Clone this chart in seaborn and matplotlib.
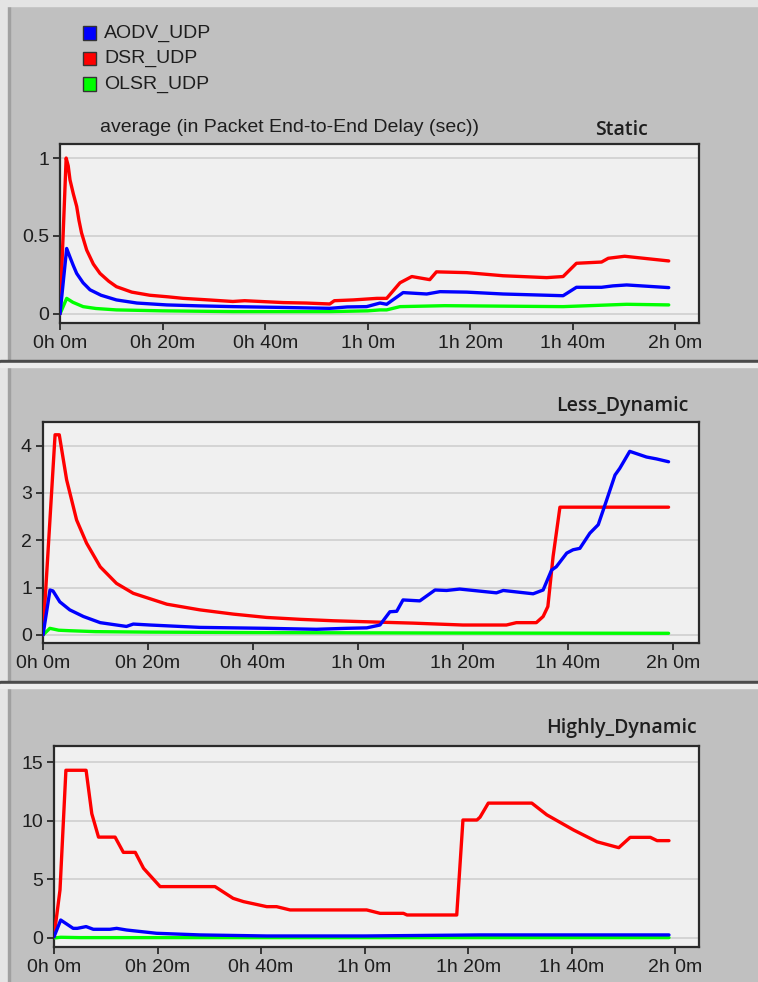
import pandas as pd
import matplotlib
matplotlib.use("Agg")
import matplotlib.pyplot as plt
from matplotlib.patches import Rectangle
import seaborn as sns

# ---------------------------------------------------------------------------
# Average packet end-to-end delay (sec) over simulation time (minutes)
# ---------------------------------------------------------------------------
protocols = ["AODV_UDP", "DSR_UDP", "OLSR_UDP"]
colors = {"AODV_UDP": "#0000ff", "DSR_UDP": "#ff0000", "OLSR_UDP": "#00ff00"}
scenarios = ["Static", "Less_Dynamic", "Highly_Dynamic"]

tick_minutes = [0, 20, 40, 60, 80, 100, 120]
tick_labels = ["0h 0m", "0h 20m", "0h 40m", "1h 0m", "1h 20m", "1h 40m", "2h 0m"]

# --- Static ---
static_dsr_t = [0, 1.2, 1.6, 1.95, 2.6, 3.25, 3.7, 4.2, 5.2, 6.5, 7.8, 9.5, 11, 14, 17.5,
                21, 24, 29, 33.7, 36, 43.5, 48, 52.6, 53.5, 57.2, 61.8, 63.7, 66.3, 68.6,
                72.1, 73.4, 79.3, 86.4, 94.9, 98.1, 100.7, 105.6, 106.9, 110.1, 118.7]
static_dsr = [0.0, 1.0, 0.95, 0.86, 0.77, 0.69, 0.60, 0.52, 0.41, 0.32, 0.26, 0.21, 0.175,
              0.14, 0.12, 0.11, 0.10, 0.09, 0.08, 0.085, 0.073, 0.07, 0.064, 0.085, 0.09,
              0.10, 0.10, 0.20, 0.24, 0.22, 0.27, 0.265, 0.245, 0.233, 0.24, 0.325, 0.333,
              0.357, 0.37, 0.34]
static_aodv_t = [0, 1.3, 2.0, 2.6, 3.25, 4.5, 5.85, 8, 11, 15, 20.8, 27, 33.7, 43, 52.6,
                 56, 59.8, 62.4, 63.7, 66.9, 71.5, 74.1, 79.3, 86.4, 98.1, 100.7, 105.6,
                 107.8, 110.5, 118.7]
static_aodv = [0.0, 0.42, 0.36, 0.31, 0.26, 0.20, 0.155, 0.12, 0.09, 0.07, 0.058, 0.052,
               0.047, 0.042, 0.036, 0.045, 0.047, 0.07, 0.062, 0.137, 0.128, 0.143, 0.14,
               0.128, 0.117, 0.171, 0.171, 0.18, 0.186, 0.169]
static_olsr_t = [0, 1.3, 2.5, 4.5, 7, 11, 20, 33.7, 52.6, 60, 62.4, 63.7, 66.3, 75, 98.1,
                 110.5, 118.7]
static_olsr = [0.0, 0.10, 0.075, 0.047, 0.035, 0.026, 0.02, 0.015, 0.015, 0.02, 0.026,
               0.026, 0.047, 0.053, 0.047, 0.062, 0.058]

# --- Less_Dynamic ---
less_dsr_t = [0, 2.3, 3.1, 4.5, 6.4, 8.3, 10.9, 14, 17.2, 23.6, 29.9, 36.3, 42.6, 49,
              55.3, 64.2, 70.5, 80, 88.3, 90.2, 94, 95.3, 96.2, 97.2, 98.5, 119.2]
less_dsr = [0.0, 4.23, 4.23, 3.28, 2.43, 1.94, 1.44, 1.09, 0.88, 0.65, 0.53, 0.44, 0.37,
            0.33, 0.30, 0.27, 0.25, 0.21, 0.21, 0.26, 0.26, 0.39, 0.60, 1.66, 2.70, 2.70]
less_aodv_t = [0, 1.33, 1.9, 3.2, 5.1, 7.7, 10.9, 15.9, 17.2, 20.4, 29.9, 42.6, 52.1,
               57.8, 61.7, 64.2, 66.1, 67.4, 68.6, 71.8, 74.7, 76.9, 79.4, 86.4, 87.7,
               93.4, 95.3, 96.9, 97.8, 99.8, 101, 102.3, 104.2, 105.8, 107.4, 109, 109.9,
               111.8, 115, 116.9, 119.2]
less_aodv = [0.0, 0.95, 0.93, 0.70, 0.53, 0.39, 0.26, 0.18, 0.23, 0.21, 0.16, 0.14, 0.12,
             0.14, 0.15, 0.21, 0.49, 0.50, 0.74, 0.72, 0.95, 0.94, 0.97, 0.89, 0.94, 0.87,
             0.95, 1.37, 1.44, 1.73, 1.80, 1.83, 2.15, 2.33, 2.85, 3.38, 3.52, 3.88, 3.76,
             3.72, 3.66]
less_olsr_t = [0, 1.3, 3, 5, 10, 20, 40, 80, 119.2]
less_olsr = [0.0, 0.14, 0.10, 0.09, 0.07, 0.06, 0.05, 0.04, 0.035]

# --- Highly_Dynamic ---
high_dsr_t = [0, 1.16, 2.3, 6.2, 7.3, 8.6, 11.8, 13.4, 15.7, 17.3, 20.5, 31.1, 34.6,
              36.6, 41.1, 43, 45.6, 60.4, 63, 67.5, 68.2, 77.8, 79, 81.7, 82.3, 83.9,
              92.3, 95.2, 100.4, 104.9, 109.1, 111.3, 115.2, 116.5, 118.8]
high_dsr = [0.1, 4.1, 14.3, 14.3, 10.6, 8.6, 8.6, 7.3, 7.3, 5.94, 4.38, 4.38, 3.38, 3.1,
            2.67, 2.67, 2.39, 2.39, 2.1, 2.1, 1.96, 1.96, 10.06, 10.06, 10.3, 11.5, 11.5,
            10.5, 9.2, 8.2, 7.7, 8.58, 8.58, 8.3, 8.3]
high_aodv_t = [0, 1.3, 3.7, 4.5, 6.2, 7.6, 10.8, 12.1, 14, 19.8, 28.2, 41.1, 60, 82.3,
               118.8]
high_aodv = [0.1, 1.53, 0.82, 0.82, 0.97, 0.74, 0.74, 0.82, 0.68, 0.40, 0.26, 0.17, 0.17,
             0.26, 0.26]
high_olsr_t = [0, 1.3, 5, 118.8]
high_olsr = [0.0, 0.06, 0.03, 0.03]

series = {
    "Static": {"AODV_UDP": (static_aodv_t, static_aodv),
               "DSR_UDP": (static_dsr_t, static_dsr),
               "OLSR_UDP": (static_olsr_t, static_olsr)},
    "Less_Dynamic": {"AODV_UDP": (less_aodv_t, less_aodv),
                     "DSR_UDP": (less_dsr_t, less_dsr),
                     "OLSR_UDP": (less_olsr_t, less_olsr)},
    "Highly_Dynamic": {"AODV_UDP": (high_aodv_t, high_aodv),
                       "DSR_UDP": (high_dsr_t, high_dsr),
                       "OLSR_UDP": (high_olsr_t, high_olsr)},
}

y_ticks = {"Static": [0, 0.5, 1], "Less_Dynamic": [0, 1, 2, 3, 4],
           "Highly_Dynamic": [0, 5, 10, 15]}
y_labels = {"Static": ["0", "0.5", "1"], "Less_Dynamic": ["0", "1", "2", "3", "4"],
            "Highly_Dynamic": ["0", "5", "10", "15"]}

# ---------------------------------------------------------------------------
sns.set_theme(style="white")
plt.rcParams["font.family"] = ["Liberation Sans", "DejaVu Sans"]

W, H = 758, 982
BG = "#c0c0c0"
fig = plt.figure(figsize=(W / 100, H / 100), dpi=100, facecolor=BG)


def fx(x):
    return x / W


def fy(y):
    return 1 - y / H


def px_rect(left, top, right, bottom):
    return [fx(left), fy(bottom), (right - left) / W, (bottom - top) / H]


# window chrome: light bevel at left/top and panel separators
fig.patches.append(Rectangle((0, 0), fx(8), 1, transform=fig.transFigure,
                             color="#e4e4e4", zorder=0))
fig.patches.append(Rectangle((fx(8), 0), fx(1.5), 1, transform=fig.transFigure,
                             color="#a0a0a0", zorder=0))
fig.patches.append(Rectangle((0, fy(6)), 1, 6 / H, transform=fig.transFigure,
                             color="#e4e4e4", zorder=0))
for sep in (361, 682):
    fig.patches.append(Rectangle((0, fy(sep + 1.5)), 1, 3 / H, transform=fig.transFigure,
                                 color="#4a4a4a", zorder=1))
    fig.patches.append(Rectangle((0, fy(sep + 6)), 1, 4 / H, transform=fig.transFigure,
                                 color="#ececec", zorder=1))

layout = {
    "Static": dict(rect=px_rect(60, 144, 699, 323), ylim=(-0.058, 1.09),
                   xlim=(0, 124.6), title_y=130),
    "Less_Dynamic": dict(rect=px_rect(43, 422, 699, 643), ylim=(-0.17, 4.5),
                         xlim=(0, 125.0), title_y=406),
    "Highly_Dynamic": dict(rect=px_rect(54, 746, 699, 947), ylim=(-0.77, 16.37),
                           xlim=(0, 124.6), title_y=728),
}

draw_order = ["OLSR_UDP", "DSR_UDP", "AODV_UDP"]

for name in scenarios:
    cfg = layout[name]
    ax = fig.add_axes(cfg["rect"])
    ax.set_facecolor("#f0f0f0")

    frames = []
    for proto in protocols:
        t, v = series[name][proto]
        frames.append(pd.DataFrame({"time": t, "delay": v, "protocol": proto}))
    df = pd.concat(frames, ignore_index=True)

    sns.lineplot(data=df, x="time", y="delay", hue="protocol", hue_order=draw_order,
                 palette=colors, estimator=None, sort=False, linewidth=2.4,
                 legend=False, ax=ax, zorder=3)

    ax.set_xlim(*cfg["xlim"])
    ax.set_ylim(*cfg["ylim"])
    ax.set_xticks(tick_minutes)
    ax.set_xticklabels(tick_labels)
    ax.set_yticks(y_ticks[name])
    ax.set_yticklabels(y_labels[name])
    ax.set_xlabel("")
    ax.set_ylabel("")
    ax.yaxis.grid(True, color="#d2d2d2", linewidth=1.3, zorder=0)
    ax.xaxis.grid(False)
    for sp in ax.spines.values():
        sp.set_color("#2a2a2a")
        sp.set_linewidth(1.6)
        sp.set_visible(True)
    ax.tick_params(axis="both", direction="out", length=5, width=1.3, color="#2a2a2a",
                   labelsize=14, labelcolor="#1e1e1e", pad=3)
    ax.tick_params(axis="x", pad=3.5)
    ax.tick_params(bottom=True, left=True)

    fig.text(fx(622), fy(cfg["title_y"]), name, ha="center", va="center",
             fontsize=14, fontweight="semibold", color="#1e1e1e",
             family=["Open Sans", "DejaVu Sans"])

# measurement title
fig.text(fx(289), fy(128), "average (in Packet End-to-End Delay (sec))", ha="center",
         va="center", fontsize=14, color="#1e1e1e")

# legend
for i, proto in enumerate(protocols):
    yc = 33 + i * 25.5
    fig.patches.append(Rectangle((fx(83), fy(yc + 6.5)), 13 / W, 13 / H,
                                 transform=fig.transFigure, facecolor=colors[proto],
                                 edgecolor="#333333", linewidth=1.0, zorder=3))
    fig.text(fx(104), fy(yc), proto, ha="left", va="center", fontsize=14,
             color="#1e1e1e")

fig.savefig("out.png", dpi=100, facecolor=BG)
